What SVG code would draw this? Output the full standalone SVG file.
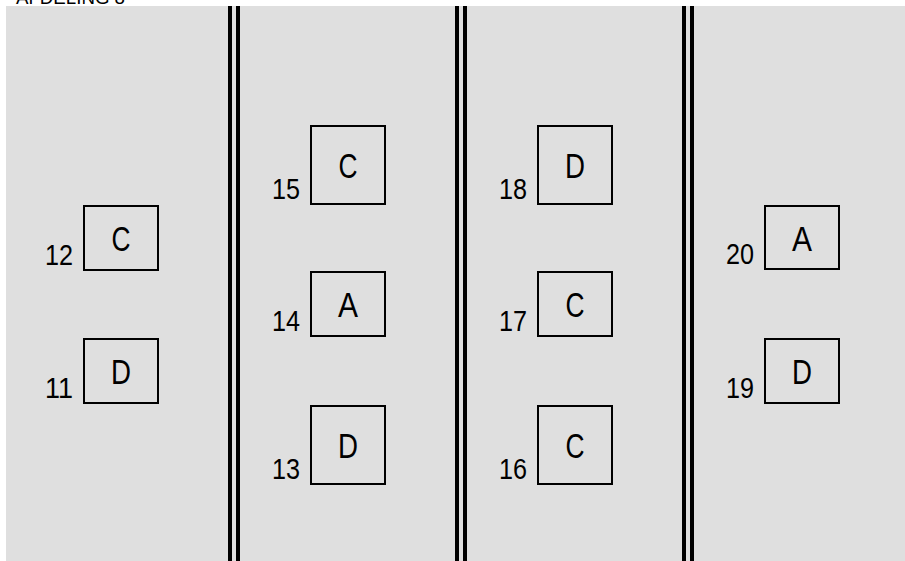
<svg xmlns="http://www.w3.org/2000/svg" width="905" height="561" viewBox="0 0 905 561">
<style>
.bg{fill:#dfdfdf}
.bar{fill:#000}
.box{fill:#dfdfdf;stroke:#000;stroke-width:2}
.lbl{font-family:"Liberation Sans",Arial,sans-serif;font-size:35px;fill:#000;text-anchor:middle}
.num{font-family:"Liberation Sans",Arial,sans-serif;font-size:29px;fill:#000;text-anchor:end}
.title{font-family:"Liberation Sans",Arial,sans-serif;font-size:18px;fill:#000}
</style>
<rect class="bg" x="6" y="6" width="899" height="555"/>
<text class="title" x="16" y="4" textLength="109" lengthAdjust="spacingAndGlyphs">AFDELING 8</text>
<g id="walls">
<rect class="bar" x="228" y="6" width="4" height="555"/>
<rect class="bar" x="236" y="6" width="4" height="555"/>
<rect class="bar" x="455" y="6" width="4" height="555"/>
<rect class="bar" x="463" y="6" width="4" height="555"/>
<rect class="bar" x="682" y="6" width="4" height="555"/>
<rect class="bar" x="690" y="6" width="4" height="555"/>
</g>
<g id="node12"><rect class="box" x="84" y="206" width="74" height="64"/><text class="lbl" x="121" y="251" textLength="19" lengthAdjust="spacingAndGlyphs">C</text><text class="num" x="73" y="265" textLength="28" lengthAdjust="spacingAndGlyphs">12</text></g>
<g id="node11"><rect class="box" x="84" y="339" width="74" height="64"/><text class="lbl" x="121" y="384" textLength="20" lengthAdjust="spacingAndGlyphs">D</text><text class="num" x="73" y="398" textLength="28" lengthAdjust="spacingAndGlyphs">11</text></g>
<g id="node15"><rect class="box" x="311" y="126" width="74" height="78"/><text class="lbl" x="348" y="178" textLength="19" lengthAdjust="spacingAndGlyphs">C</text><text class="num" x="300" y="199" textLength="28" lengthAdjust="spacingAndGlyphs">15</text></g>
<g id="node14"><rect class="box" x="311" y="272" width="74" height="64"/><text class="lbl" x="348" y="317" textLength="20" lengthAdjust="spacingAndGlyphs">A</text><text class="num" x="300" y="331" textLength="28" lengthAdjust="spacingAndGlyphs">14</text></g>
<g id="node13"><rect class="box" x="311" y="406" width="74" height="78"/><text class="lbl" x="348" y="458" textLength="20" lengthAdjust="spacingAndGlyphs">D</text><text class="num" x="300" y="479" textLength="28" lengthAdjust="spacingAndGlyphs">13</text></g>
<g id="node18"><rect class="box" x="538" y="126" width="74" height="78"/><text class="lbl" x="575" y="178" textLength="20" lengthAdjust="spacingAndGlyphs">D</text><text class="num" x="527" y="199" textLength="28" lengthAdjust="spacingAndGlyphs">18</text></g>
<g id="node17"><rect class="box" x="538" y="272" width="74" height="64"/><text class="lbl" x="575" y="317" textLength="19" lengthAdjust="spacingAndGlyphs">C</text><text class="num" x="527" y="331" textLength="28" lengthAdjust="spacingAndGlyphs">17</text></g>
<g id="node16"><rect class="box" x="538" y="406" width="74" height="78"/><text class="lbl" x="575" y="458" textLength="19" lengthAdjust="spacingAndGlyphs">C</text><text class="num" x="527" y="479" textLength="28" lengthAdjust="spacingAndGlyphs">16</text></g>
<g id="node20"><rect class="box" x="765" y="206" width="74" height="63"/><text class="lbl" x="802" y="251" textLength="20" lengthAdjust="spacingAndGlyphs">A</text><text class="num" x="754" y="264" textLength="28" lengthAdjust="spacingAndGlyphs">20</text></g>
<g id="node19"><rect class="box" x="765" y="339" width="74" height="64"/><text class="lbl" x="802" y="384" textLength="20" lengthAdjust="spacingAndGlyphs">D</text><text class="num" x="754" y="398" textLength="28" lengthAdjust="spacingAndGlyphs">19</text></g>
<g id="connectors"></g>
</svg>
